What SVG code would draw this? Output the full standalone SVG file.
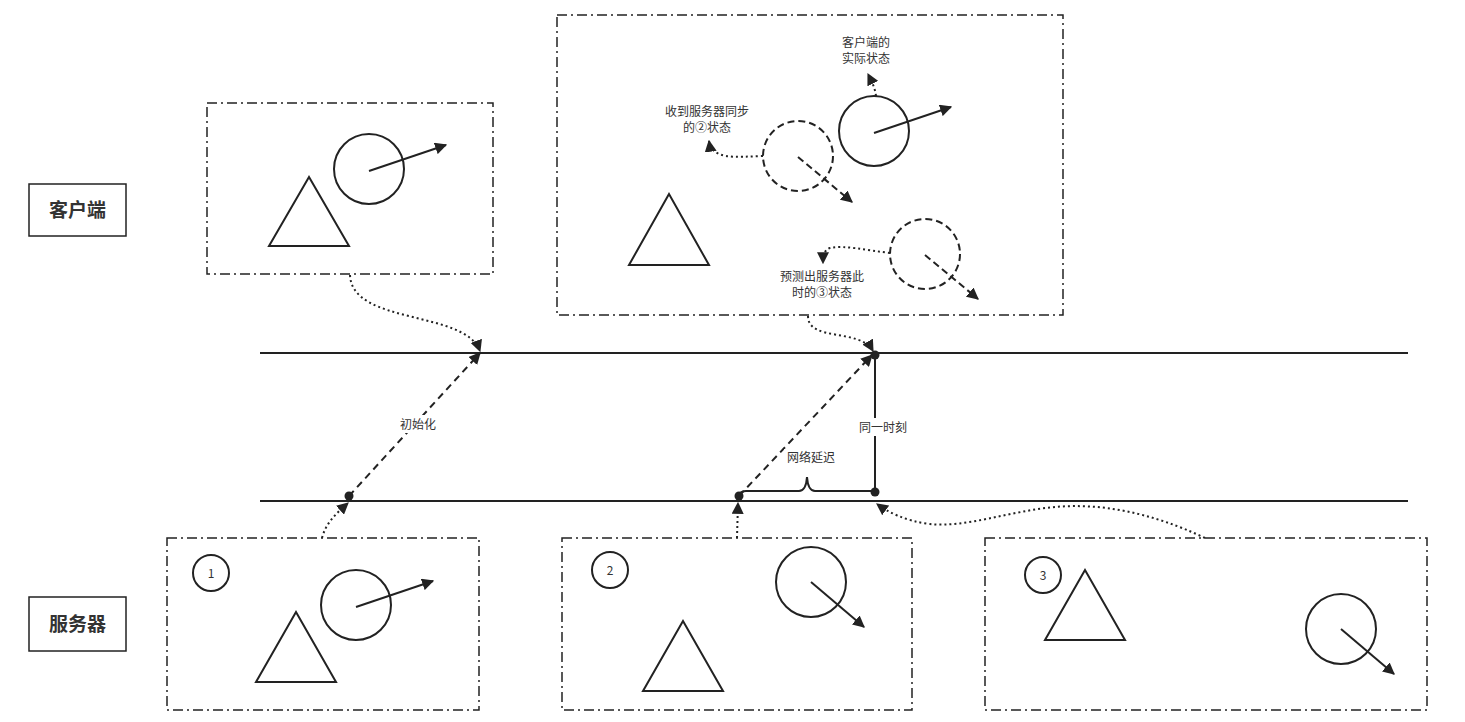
<svg xmlns="http://www.w3.org/2000/svg" width="1465" height="722" viewBox="0 0 1465 722">
<style>
text{font-family:"Noto Sans CJK SC","Liberation Sans",sans-serif;fill:#333;}
.lbl{font-size:12px;text-anchor:middle;}
.big{font-size:19px;font-weight:bold;text-anchor:middle;}
.box{fill:#fff;stroke:#222;stroke-width:1.5;stroke-dasharray:10 4 2 4;}
.sh{fill:none;stroke:#222;stroke-width:2;}
.shd{fill:none;stroke:#222;stroke-width:2;stroke-dasharray:7 4;}
.ln{fill:none;stroke:#222;stroke-width:2;}
.dash{fill:none;stroke:#222;stroke-width:2;stroke-dasharray:7 5;}
.dot{fill:none;stroke:#222;stroke-width:2;stroke-dasharray:2 3;}
.lb{fill:#fff;stroke:#222;stroke-width:1.5;}
</style>
<defs>
<marker id="ah" viewBox="0 0 10 10" refX="9" refY="5" markerWidth="12" markerHeight="12" markerUnits="userSpaceOnUse" orient="auto">
<path d="M0,0 L10,5 L0,10 Z" fill="#222"/>
</marker>
</defs>
<rect width="1465" height="722" fill="#fff"/>

<g id="label-client"><rect class="lb" x="29" y="184" width="97" height="52"/><text class="big" x="77.5" y="217">客户端</text></g>
<g id="label-server"><rect class="lb" x="29" y="597" width="97" height="54"/><text class="big" x="77.5" y="631">服务器</text></g>

<g id="timelines">
<line class="ln" x1="260" y1="353" x2="1408" y2="353"/>
<line class="ln" x1="260" y1="501" x2="1408" y2="501"/>
</g>

<g id="client-box-init">
<rect class="box" x="207" y="103" width="286" height="171"/>
<circle class="sh" cx="369" cy="169" r="35"/>
<line class="sh" x1="369" y1="171" x2="446" y2="145" marker-end="url(#ah)"/>
<polygon class="sh" points="309,177 269,246 349,246"/>
</g>

<g id="client-box-now">
<rect class="box" x="557" y="15" width="506" height="300"/>
<polygon class="sh" points="669,194 629,265 709,265"/>
<circle class="sh" cx="874" cy="131" r="35"/>
<line class="sh" x1="874" y1="133" x2="951" y2="107" marker-end="url(#ah)"/>
<circle class="shd" cx="798" cy="156" r="35"/>
<line class="shd" x1="798" y1="157" x2="852" y2="202" marker-end="url(#ah)"/>
<circle class="shd" cx="925" cy="254" r="35"/>
<line class="shd" x1="925" y1="255" x2="978" y2="299" marker-end="url(#ah)"/>
<path class="dot" d="M876,96 C875,88 872,82 868,74" marker-end="url(#ah)"/>
<path class="dot" d="M763,156 C735,157 712,160 709,141" marker-end="url(#ah)"/>
<path class="dot" d="M890,253 C865,250 845,245 830,248 C824,250 823,256 823,263" marker-end="url(#ah)"/>
<text class="lbl" x="866" y="47">客户端的</text>
<text class="lbl" x="866" y="63">实际状态</text>
<text class="lbl" x="707" y="116">收到服务器同步</text>
<text class="lbl" x="707" y="132">的②状态</text>
<text class="lbl" x="822" y="281">预测出服务器此</text>
<text class="lbl" x="822" y="297">时的③状态</text>
</g>

<g id="server-box-1">
<rect class="box" x="167" y="538" width="312" height="172"/>
<circle class="sh" cx="211" cy="573" r="18" stroke-width="1.5"/>
<text class="lbl" x="211" y="578">1</text>
<circle class="sh" cx="356" cy="605" r="35"/>
<line class="sh" x1="356" y1="607" x2="433" y2="581" marker-end="url(#ah)"/>
<polygon class="sh" points="296,612 256,682 336,682"/>
</g>

<g id="server-box-2">
<rect class="box" x="562" y="538" width="350" height="172"/>
<circle class="sh" cx="610" cy="570" r="18" stroke-width="1.5"/>
<text class="lbl" x="610" y="575">2</text>
<circle class="sh" cx="811" cy="582" r="35"/>
<line class="sh" x1="811" y1="582" x2="864" y2="627" marker-end="url(#ah)"/>
<polygon class="sh" points="683,621 643,691 723,691"/>
</g>

<g id="server-box-3">
<rect class="box" x="985" y="538" width="442" height="172"/>
<circle class="sh" cx="1043" cy="575" r="18" stroke-width="1.5"/>
<text class="lbl" x="1043" y="580">3</text>
<polygon class="sh" points="1085,570 1045,640 1125,640"/>
<circle class="sh" cx="1341" cy="629" r="35"/>
<line class="sh" x1="1341" y1="629" x2="1394" y2="674" marker-end="url(#ah)"/>
</g>

<g id="connectors">
<line class="dash" x1="349" y1="496" x2="480" y2="353" marker-end="url(#ah)"/>
<line class="dash" x1="739" y1="496" x2="872" y2="355" marker-end="url(#ah)"/>
<line class="ln" x1="875" y1="355" x2="875" y2="492"/>
<path class="ln" d="M740,494 Q741,491 746,491 L799,491 Q806,491 807,477 Q808,491 815,491 L873,491"/>
<circle cx="349" cy="496" r="4.5" fill="#222"/>
<circle cx="739" cy="496" r="4.5" fill="#222"/>
<circle cx="875" cy="355" r="4.5" fill="#222"/>
<circle cx="875" cy="492" r="4.5" fill="#222"/>
<path class="dot" d="M350,275 C352,325 465,310 480,351" marker-end="url(#ah)"/>
<path class="dot" d="M808,316 C808,342 860,328 873,351" marker-end="url(#ah)"/>
<path class="dot" d="M322,538 C326,522 338,512 348,503" marker-end="url(#ah)"/>
<path class="dot" d="M737,538 L738,503" marker-end="url(#ah)"/>
<path class="dot" d="M1205,538 C1150,512 1100,503 1055,507 C1010,511 965,528 930,524 C905,521 888,512 877,504" marker-end="url(#ah)"/>
<rect x="396" y="415" width="44" height="18" fill="#fff"/>
<text class="lbl" x="418" y="429">初始化</text>
<rect x="784" y="449" width="54" height="18" fill="#fff"/>
<text class="lbl" x="811" y="462">网络延迟</text>
<rect x="862" y="418" width="42" height="18" fill="#fff"/>
<text class="lbl" x="883" y="432">同一时刻</text>
</g>
</svg>
